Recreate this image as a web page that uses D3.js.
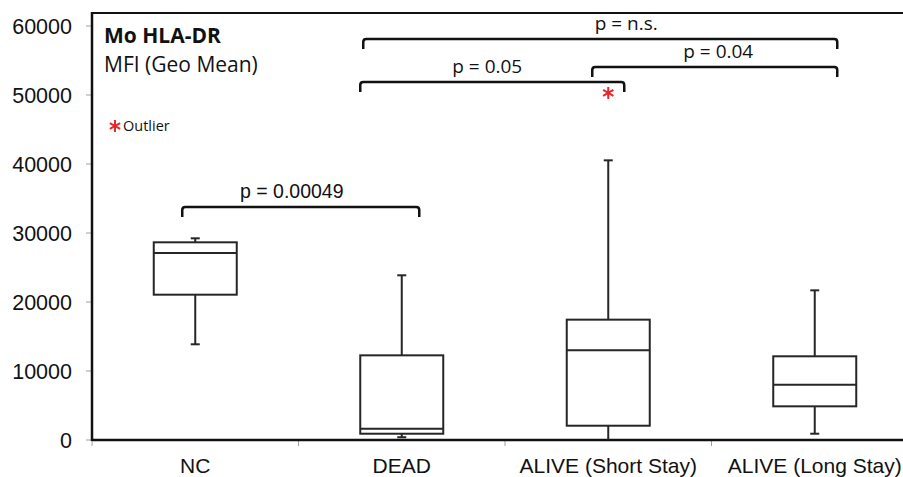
<!DOCTYPE html>
<html>
<head>
<meta charset="utf-8">
<script src="https://cdn.jsdelivr.net/npm/d3@7"></script>
<style>
  body { margin: 0; background: #fff; }
  svg { display: block; }
</style>
</head>
<body>
<div id="chart"></div>
<script>
const width = 903
const height = 477

// box plot values
const categories = ["NC", "DEAD", "ALIVE (Short Stay)", "ALIVE (Long Stay)"]
const whiskerLow = [13870, 400, 0, 910]
const q1 = [21060, 910, 2070, 4880]
const median = [27100, 1640, 13000, 8020]
const q3 = [28650, 12270, 17440, 12130]
const whiskerHigh = [29230, 23870, 40530, 21690]
const outlierCategory = ["ALIVE (Short Stay)"]
const outlierValue = [50300]
const yTicks = [0, 10000, 20000, 30000, 40000, 50000, 60000]

// significance brackets
const bracketFrom = ["NC", "DEAD", "DEAD", "ALIVE (Short Stay)"]
const bracketTo = ["DEAD", "ALIVE (Long Stay)", "ALIVE (Short Stay)", "ALIVE (Long Stay)"]
const bracketLevel = [33770, 58120, 51880, 54060]
const bracketLabel = ["p = 0.00049", "p = n.s.", "p = 0.05", "p = 0.04"]

// small layout tweaks for the brackets (px), not data
const bracketInset = [[-13, 17.5], [-38.5, 22.5], [-41.5, 16], [-16, 22.5]]
const labelShift = [-9, 26, -5, 3.5]
const labelFont = ["Liberation Sans, Arial, sans-serif", "Open Sans, sans-serif", "Open Sans, sans-serif", "Open Sans, sans-serif"]

const margin = { top: 13, left: 92, bottom: 37 }
const plotRight = 918 // plot area continues past the window edge

const svg = d3.select("#chart")
    .append("svg")
    .attr("width", width)
    .attr("height", height)

const x = d3.scaleBand()
    .domain(categories)
    .range([margin.left, plotRight])

const y = d3.scaleLinear()
    .domain([0, 60000])
    .range([height - margin.bottom, 26])

const y0 = y(0)

// y axis ticks + labels
svg.append("g")
    .selectAll("line")
    .data(yTicks)
    .join("line")
    .attr("x1", margin.left - 6)
    .attr("x2", margin.left)
    .attr("y1", d => y(d))
    .attr("y2", d => y(d))
    .attr("stroke", "#a0a0a0")
    .attr("stroke-width", 1)

svg.append("g")
    .selectAll("text")
    .data(yTicks)
    .join("text")
    .attr("x", margin.left - 20)
    .attr("y", d => y(d))
    .attr("dy", "0.36em")
    .attr("text-anchor", "end")
    .style("font-family", "Liberation Sans, Arial, sans-serif")
    .style("font-size", "21.5px")
    .attr("fill", "#111")
    .text(d => d)

// x ticks at band edges
const edges = categories.map(c => x(c))
svg.append("g")
    .selectAll("line")
    .data(edges)
    .join("line")
    .attr("x1", d => d)
    .attr("x2", d => d)
    .attr("y1", y0)
    .attr("y2", y0 + 6)
    .attr("stroke", "#a0a0a0")
    .attr("stroke-width", 1)

svg.append("g")
    .selectAll("text")
    .data(categories)
    .join("text")
    .attr("x", d => x(d) + x.bandwidth() / 2)
    .attr("y", 473)
    .attr("text-anchor", "middle")
    .style("font-family", "Liberation Sans, Arial, sans-serif")
    .style("font-size", "21px")
    .attr("fill", "#111")
    .text(d => d)

// frame: left axis, bottom axis, top border
svg.append("line")
    .attr("x1", margin.left).attr("x2", plotRight)
    .attr("y1", margin.top).attr("y2", margin.top)
    .attr("stroke", "#111").attr("stroke-width", 2)
svg.append("line")
    .attr("x1", margin.left).attr("x2", margin.left)
    .attr("y1", margin.top - 1).attr("y2", y0 + 1)
    .attr("stroke", "#111").attr("stroke-width", 2.5)
svg.append("line")
    .attr("x1", margin.left).attr("x2", plotRight)
    .attr("y1", y0).attr("y2", y0)
    .attr("stroke", "#111").attr("stroke-width", 2.5)

// boxes
const boxes = categories.map((c, i) => ({
    cat: c, lo: whiskerLow[i], q1: q1[i], med: median[i], q3: q3[i], hi: whiskerHigh[i]
}))

const boxW = 83
const capW = 9
const stroke = "#262626"

const bg = svg.append("g")
    .selectAll("g")
    .data(boxes)
    .join("g")
    .attr("transform", d => `translate(${x(d.cat) + x.bandwidth() / 2},0)`)

// whiskers
bg.append("line")
    .attr("x1", 0).attr("x2", 0)
    .attr("y1", d => y(d.q3)).attr("y2", d => y(d.hi))
    .attr("stroke", stroke).attr("stroke-width", 2)
bg.append("line")
    .attr("x1", 0).attr("x2", 0)
    .attr("y1", d => y(d.q1)).attr("y2", d => y(d.lo))
    .attr("stroke", stroke).attr("stroke-width", 2)
bg.append("line")
    .attr("x1", -capW / 2).attr("x2", capW / 2)
    .attr("y1", d => y(d.hi)).attr("y2", d => y(d.hi))
    .attr("stroke", stroke).attr("stroke-width", 2)
bg.filter(d => d.lo > 0).append("line")
    .attr("x1", -capW / 2).attr("x2", capW / 2)
    .attr("y1", d => y(d.lo)).attr("y2", d => y(d.lo))
    .attr("stroke", stroke).attr("stroke-width", 2)

bg.append("rect")
    .attr("x", -boxW / 2)
    .attr("width", boxW)
    .attr("y", d => y(d.q3))
    .attr("height", d => y(d.q1) - y(d.q3))
    .attr("fill", "#fff")
    .attr("stroke", stroke)
    .attr("stroke-width", 2)

bg.append("line")
    .attr("x1", -boxW / 2).attr("x2", boxW / 2)
    .attr("y1", d => y(d.med)).attr("y2", d => y(d.med))
    .attr("stroke", stroke).attr("stroke-width", 2)

// outliers
const asterisk = d3.symbol().type(d3.symbolAsterisk).size(100)
svg.append("g")
    .selectAll("path")
    .data(outlierValue.map((v, i) => ({ cat: outlierCategory[i], v })))
    .join("path")
    .attr("d", asterisk)
    .attr("transform", d => `translate(${x(d.cat) + x.bandwidth() / 2},${y(d.v)})`)
    .attr("fill", "none")
    .attr("stroke", "#e8262b")
    .attr("stroke-width", 2)

// brackets
const legDrop = 10
const r = 3
const brackets = bracketLabel.map((label, i) => ({
    x1: x(bracketFrom[i]) + x.bandwidth() / 2 + bracketInset[i][0],
    x2: x(bracketTo[i]) + x.bandwidth() / 2 + bracketInset[i][1],
    yy: y(bracketLevel[i]),
    label, i
}))

const brg = svg.append("g")
brg.selectAll("path")
    .data(brackets)
    .join("path")
    .attr("d", d => {
        const p = d3.path()
        p.moveTo(d.x1, d.yy + legDrop)
        p.lineTo(d.x1, d.yy + r)
        p.quadraticCurveTo(d.x1, d.yy, d.x1 + r, d.yy)
        p.lineTo(d.x2 - r, d.yy)
        p.quadraticCurveTo(d.x2, d.yy, d.x2, d.yy + r)
        p.lineTo(d.x2, d.yy + legDrop)
        return p.toString()
    })
    .attr("fill", "none")
    .attr("stroke", "#111")
    .attr("stroke-width", 2.5)

brg.selectAll("text")
    .data(brackets)
    .join("text")
    .attr("x", d => (d.x1 + d.x2) / 2 + labelShift[d.i])
    .attr("y", d => d.yy - 9)
    .attr("text-anchor", "middle")
    .style("font-family", d => labelFont[d.i])
    .style("font-size", d => d.i === 0 ? "19.5px" : "19px")
    .attr("fill", "#111")
    .text(d => d.label)

// title + legend inside the plot
svg.append("text")
    .attr("x", 104).attr("y", 43)
    .style("font-family", "Open Sans, sans-serif")
    .style("font-weight", "bold")
    .style("font-size", "21px")
    .attr("fill", "#111")
    .text("Mo HLA-DR")
svg.append("text")
    .attr("x", 104).attr("y", 72)
    .style("font-family", "Open Sans, sans-serif")
    .style("font-size", "21px")
    .attr("fill", "#111")
    .text("MFI (Geo Mean)")

svg.append("path")
    .attr("d", asterisk)
    .attr("transform", "translate(115,126)")
    .attr("fill", "none")
    .attr("stroke", "#e8262b")
    .attr("stroke-width", 2)
svg.append("text")
    .attr("x", 123).attr("y", 131)
    .style("font-family", "Open Sans, sans-serif")
    .style("font-size", "14.5px")
    .attr("fill", "#111")
    .text("Outlier")
</script>
</body>
</html>
